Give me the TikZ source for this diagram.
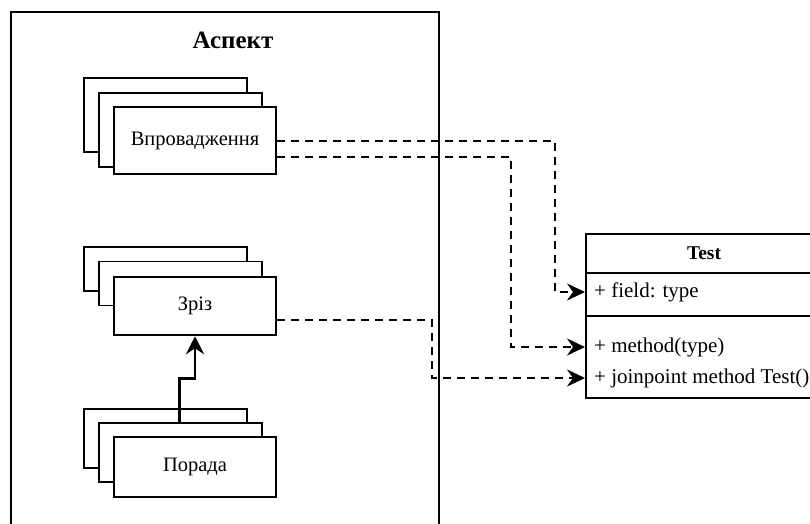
\documentclass[tikz,border=0pt]{standalone}
\usepackage{fontspec}
\setmainfont{Liberation Serif}
\usetikzlibrary{arrows.meta,calc}
\tikzset{
  backbox/.style={draw, line width=1.5pt, fill=white, inner sep=0pt, minimum width=163pt},
  frontbox/.style={draw, line width=2.5pt, fill=white, inner sep=0pt, minimum width=162pt, font=\fontsize{20.5}{24}\selectfont},
  umlbox/.style={draw, line width=2pt, fill=white, inner sep=0pt, minimum width=236pt, anchor=north west},
  umltext/.style={anchor=west, inner sep=2pt, font=\fontsize{21}{25}\selectfont},
  dashconn/.style={line width=2.4pt, dash pattern=on 8pt off 6pt, -{Stealth[length=18pt,width=17pt,inset=6pt]}},
  solidconn/.style={line width=2.5pt, -{Stealth[length=18pt,width=18pt,inset=6pt]}}
}
\begin{document}
\begin{tikzpicture}[x=1pt,y=-1pt]
\useasboundingbox (0,0) rectangle (810,523);
\clip (0,0) rectangle (810,523);
\fill[white] (0,0) rectangle (810,523);

% Aspect container
\node[draw, line width=2.2pt, inner sep=0pt, anchor=north west, minimum width=428pt, minimum height=600pt] (aspect) at (10,11) {};
\node[font=\bfseries\fontsize{25}{29}\selectfont] (atitle) at (233,40) {Аспект};

% Впровадження stack
\node[backbox, minimum height=74pt] (v1) at (165.5,115) {};
\node[backbox, minimum height=74pt] (v2) at (180.5,130) {};
\node[frontbox, minimum height=67pt] (vpr) at (195,140.5) {Впровадження};

% Зріз stack
\node[backbox, minimum height=44pt] (z1) at (165.5,269) {};
\node[backbox, minimum height=44pt] (z2) at (180.5,283.5) {};
\node[frontbox, minimum height=58pt] (zriz) at (195,306) {Зріз};

% Порада stack
\node[backbox, minimum height=59pt] (p1) at (165.5,438.5) {};
\node[backbox, minimum height=59pt] (p2) at (180.5,452.5) {};
\node[frontbox, minimum height=60pt] (porada) at (195,467) {Порада};

% Test class
\node[umlbox, minimum height=39pt, font=\bfseries\fontsize{19.5}{23}\selectfont] (ttitle) at (585,233) {Test};
\node[umlbox, minimum height=43pt] (field) at (585,272) {};
\node[umlbox, minimum height=82pt] (methods) at (585,315) {};
\node[umltext] (ftxt) at (592,292) {+ field: type};
\node[umltext] (m1) at (592,347) {+ method(type)};
\node[umltext] (m2) at (592,378) {+ joinpoint method Test()};

% connectors
\draw[dashconn] ([yshift=-0.5pt]vpr.east) -- ++(278,0) |- (field.west |- ftxt);
\draw[dashconn] ([yshift=-16.5pt]vpr.east) -- ++(234,0) |- (methods.west |- m1);
\draw[dashconn] ([yshift=-14pt]zriz.east) -- ++(155,0) |- (methods.west |- m2);
\draw[solidconn] ([xshift=81pt]p2.north west) -- ++(0,-44) -| (zriz.south);
\end{tikzpicture}
\end{document}
